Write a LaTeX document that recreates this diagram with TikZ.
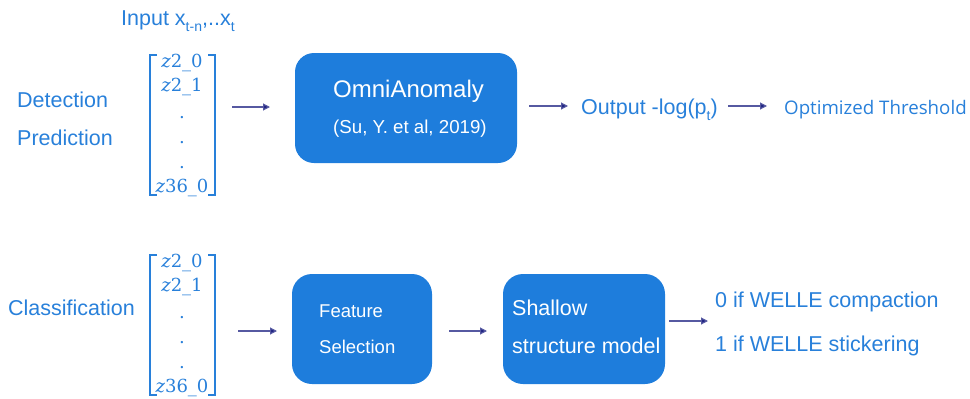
\documentclass[tikz,border=0pt]{standalone}
\usepackage{fontspec}
\setmainfont{Liberation Sans}
\newfontfamily\uifont{Open Sans}
\newfontfamily\vecfont{DejaVu Serif}
\usetikzlibrary{arrows.meta}
\definecolor{boxblue}{RGB}{30,125,220}
\definecolor{txtblue}{RGB}{40,128,218}
\definecolor{arrnavy}{RGB}{30,34,130}
\newcommand{\fsz}[1]{\fontsize{#1}{#1}\selectfont}
\newcommand{\subtx}[1]{\raisebox{-0.3em}{\fsz{14}#1}}
\newcommand{\zent}[2]{{\itshape z}#1\_#2}

\begin{document}
\begin{tikzpicture}[x=1pt,y=-1pt,
  lbl/.style={text=txtblue, font=\fsz{21.5}, inner sep=0pt, anchor=base west},
  inbox/.style={text=white, inner sep=0pt, anchor=base west},
  blk/.style={fill=boxblue, draw=none, rounded corners=19pt, inner sep=0pt},
  ent/.style={text=txtblue, font=\vecfont\fsz{18}, inner sep=0pt, anchor=base},
  brk/.style={draw=txtblue, line width=1.3pt},
  flow/.style={draw=arrnavy!75, line width=1.1pt, -{Triangle[length=7pt,width=7pt,fill=arrnavy]}},
]
\useasboundingbox (0,0) rectangle (970,399);

% ---- row labels ----
\node[lbl] (input) at (121,25) {Input x\subtx{t-n},..x\subtx{t}};
\node[lbl] (det) at (17,107) {Detection};
\node[lbl] (pred) at (17,145.5) {Prediction};
\node[lbl] (cls) at (8,315) {Classification};

% ---- input vectors ----
\foreach \oy/\nm in {0/a, 200/b} {
  \coordinate (tl\nm) at (150,55+\oy);
  \coordinate (br\nm) at (215,195+\oy);
  \draw[brk] ([xshift=7pt]tl\nm) -- (tl\nm) -- (tl\nm |- br\nm) -- ++(7,0);
  \draw[brk] ([xshift=-7pt]br\nm |- tl\nm) -- (br\nm |- tl\nm) -- (br\nm) -- ++(-7,0);
  \node[ent] (\nm0) at (182,67+\oy) {\zent{2}{0}};
  \node[ent] (\nm1) at (182,91+\oy) {\zent{2}{1}};
  \node[ent] (\nm2) at (182,118+\oy) {.};
  \node[ent] (\nm3) at (182,143+\oy) {.};
  \node[ent] (\nm4) at (182,168+\oy) {.};
  \node[ent] (\nm5) at (182,192+\oy) {\zent{36}{0}};
}

% ---- detection / prediction chain ----
\node[blk, minimum width=222pt, minimum height=110pt] (omni) at (406,108) {};
\node[inbox, font=\fsz{24}] (omnit) at (333,97) {OmniAnomaly};
\node[inbox, font=\fsz{18.7}] (omnis) at (333,133) {(Su, Y. et al, 2019)};
\node[lbl] (out) at (581,114.5) {Output -log(p\subtx{t})};
\node[lbl, font=\uifont\fsz{18.7}] (thr) at (784,114) {Optimized Threshold};

\coordinate (a1s) at (232,107);
\coordinate (a1e) at (270,107);
\coordinate (a2s) at (529,106);
\coordinate (a2e) at (568,106);
\coordinate (a3s) at (728,106);
\coordinate (a3e) at (767,106);
\draw[flow] (a1s) -- (a1e);
\draw[flow] (a2s) -- (a2e);
\draw[flow] (a3s) -- (a3e);

% ---- classification chain ----
\node[blk, minimum width=140pt, minimum height=110pt, rounded corners=20pt] (feat) at (362,329) {};
\node[inbox, font=\fsz{18.5}] (featt) at (319,317) {Feature};
\node[inbox, font=\fsz{18.5}] (feats) at (319,353) {Selection};
\node[blk, minimum width=162pt, minimum height=110pt, rounded corners=20pt] (shal) at (584,329) {};
\node[inbox, font=\fsz{21.5}] (shalt) at (512,315) {Shallow};
\node[inbox, font=\fsz{21.5}] (shals) at (512,353.3) {structure model};
\node[lbl] (c0) at (715,307) {0 if WELLE compaction};
\node[lbl] (c1) at (715,351) {1 if WELLE stickering};

\coordinate (b1s) at (238,331);
\coordinate (b1e) at (277,331);
\coordinate (b2s) at (449,331);
\coordinate (b2e) at (487,331);
\coordinate (b3s) at (669,321);
\coordinate (b3e) at (708,321);
\draw[flow] (b1s) -- (b1e);
\draw[flow] (b2s) -- (b2e);
\draw[flow] (b3s) -- (b3e);
\end{tikzpicture}
\end{document}
